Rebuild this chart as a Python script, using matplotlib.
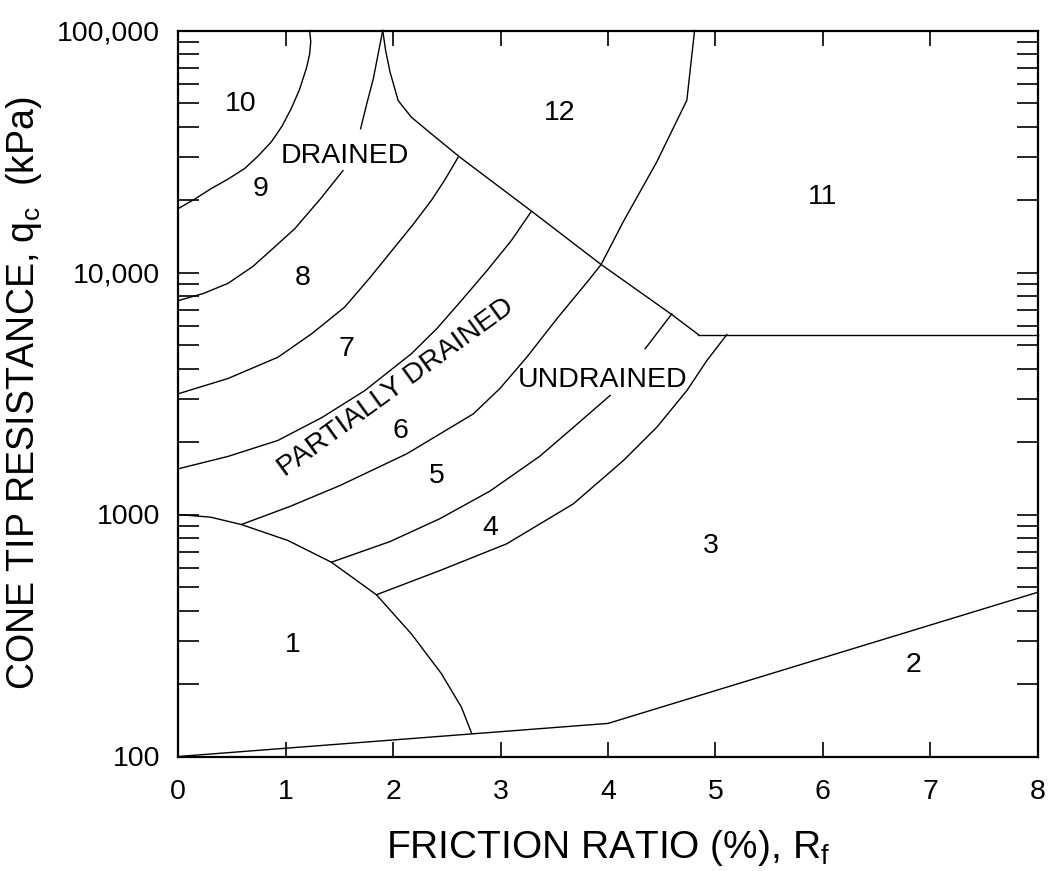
import matplotlib
matplotlib.use('Agg')
import matplotlib.pyplot as plt
from matplotlib.ticker import FixedLocator, NullFormatter

plt.rcParams['font.family'] = ['Liberation Sans', 'DejaVu Sans']
plt.rcParams['mathtext.default'] = 'regular'

# ---- data: boundary lines (friction ratio %, cone tip resistance kPa) ----
base_rf = [0.0, 4.0, 8.0]
base_qc = [100, 137, 477]

zone1_rf = [0.0, 0.3, 0.587, 1.02, 1.425, 1.844, 2.17, 2.32, 2.449, 2.635, 2.73]
zone1_qc = [1000, 975, 909, 781, 635, 466, 321, 262, 220, 160, 125]

c10_rf = [0.0, 0.155, 0.307, 0.463, 0.618, 0.742, 0.866, 0.966, 1.052, 1.128, 1.192, 1.222, 1.233, 1.223]
c10_qc = [18370, 20140, 22230, 24320, 26900, 30270, 34660, 40270, 47640, 57000, 69700, 79600, 89700, 100000]

c9_lo_rf = [0.0, 0.232, 0.463, 0.695, 0.9, 1.086, 1.319, 1.533]
c9_lo_qc = [7655, 8185, 9020, 10600, 12790, 15200, 20050, 26360]
c9_hi_rf = [1.697, 1.755, 1.816, 1.903]
c9_hi_qc = [39260, 49890, 63400, 100000]

c8_rf = [0.0, 0.463, 0.928, 1.245, 1.549, 1.785, 2.015, 2.185, 2.356, 2.483, 2.604]
c8_qc = [3155, 3648, 4467, 5598, 7196, 9530, 12740, 15780, 19860, 24220, 29900]

c7_rf = [0.0, 0.463, 0.928, 1.338, 1.736, 2.169, 2.409, 2.635, 2.874, 3.1, 3.281]
c7_qc = [1545, 1738, 2024, 2518, 3251, 4614, 5878, 7655, 10190, 13550, 17740]

c6_rf = [0.587, 1.04, 1.506, 2.127, 2.747, 2.995, 3.244, 3.535, 3.818, 3.936, 4.143, 4.454, 4.734, 4.806]
c6_qc = [909, 1080, 1318, 1782, 2606, 3321, 4467, 6530, 9270, 10790, 16240, 28640, 51500, 100000]

c5_lo_rf = [1.425, 1.971, 2.437, 2.902, 3.368, 3.678, 4.02]
c5_lo_qc = [635, 773, 962, 1250, 1745, 2292, 3105]
c5_hi_rf = [4.346, 4.594]
c5_hi_qc = [4842, 6745]

c4_rf = [1.844, 2.437, 3.058, 3.678, 4.143, 4.455, 4.734, 4.92, 5.106]
c4_qc = [466, 587, 757, 1107, 1671, 2296, 3251, 4326, 5536]

d_rf = [1.903, 1.93, 1.971, 2.046, 2.169, 2.356, 2.617, 3.29, 3.936, 4.594, 4.842]
d_qc = [100000, 82600, 67400, 51400, 43850, 37400, 30060, 17900, 10790, 6700, 5536]

h_rf = [4.842, 8.0]
h_qc = [5536, 5536]

# zone labels
zone_text = ['10', '9', '8', '7', '6', '5', '4', '3', '2', '1', '11', '12',
             'DRAINED', 'UNDRAINED']
zone_rf = [0.577, 0.77, 1.16, 1.563, 2.064, 2.409, 2.902, 4.958, 6.842, 1.067, 5.994, 3.554,
           1.551, 3.946]
zone_qc = [49900, 22230, 9530, 4850, 2223, 1449, 883, 738, 238, 288, 20600, 45800,
           30400, 3580]
pd_text = 'PARTIALLY DRAINED'
pd_rf, pd_qc, pd_angle = 2.026, 3335, 36

xticks = [0, 1, 2, 3, 4, 5, 6, 7, 8]
yticks = [100, 1000, 10000, 100000]
yticklabels = ['100', '1000', '10,000', '100,000']

# ---- figure ----
fig = plt.figure(figsize=(10.51, 8.71), dpi=100)
ax = fig.add_axes([178.3 / 1051, 1 - 756.5 / 871, (1037.7 - 178.3) / 1051, (756.5 - 30.5) / 871])
ax.set_yscale('log')
ax.set_xlim(0, 8)
ax.set_ylim(100, 100000)

lines = [(base_rf, base_qc), (zone1_rf, zone1_qc), (c10_rf, c10_qc),
         (c9_lo_rf, c9_lo_qc), (c9_hi_rf, c9_hi_qc), (c8_rf, c8_qc),
         (c7_rf, c7_qc), (c6_rf, c6_qc), (c5_lo_rf, c5_lo_qc), (c5_hi_rf, c5_hi_qc),
         (c4_rf, c4_qc), (d_rf, d_qc), (h_rf, h_qc)]
for xs, ys in lines:
    ax.plot(xs, ys, color='black', lw=1.0, solid_joinstyle='round', clip_on=False)

for t, x, y in zip(zone_text, zone_rf, zone_qc):
    ax.text(x, y, t, ha='center', va='center', fontsize=20.5)
ax.text(pd_rf, pd_qc, pd_text, ha='center', va='center', fontsize=20.5,
        rotation=pd_angle, rotation_mode='anchor')

ax.set_xticks(xticks)
ax.set_xticklabels([str(v) for v in xticks])
ax.yaxis.set_major_locator(FixedLocator(yticks))
ax.set_yticklabels(yticklabels)
minors = [m * d for d in (100, 1000, 10000) for m in range(2, 10)]
ax.yaxis.set_minor_locator(FixedLocator(minors))
ax.yaxis.set_minor_formatter(NullFormatter())
ax.xaxis.set_minor_locator(FixedLocator([]))

ax.tick_params(axis='x', which='major', direction='in', length=10.5, width=1.2,
               top=True, bottom=True, labelsize=20.5, pad=16)
ax.tick_params(axis='y', which='both', direction='in', length=15, width=1.2,
               left=True, right=True, labelsize=20.5, pad=13)
for s in ax.spines.values():
    s.set_linewidth(1.6)

ax.set_xlabel('FRICTION RATIO (%), R$_f$', fontsize=28)
ax.xaxis.set_label_coords(0.5, -0.099)
ax.set_ylabel('CONE TIP RESISTANCE, q$_c$  (kPa)', fontsize=27)
ax.yaxis.set_label_coords(-0.156, 0.5)

fig.savefig('out.png', dpi=100)
